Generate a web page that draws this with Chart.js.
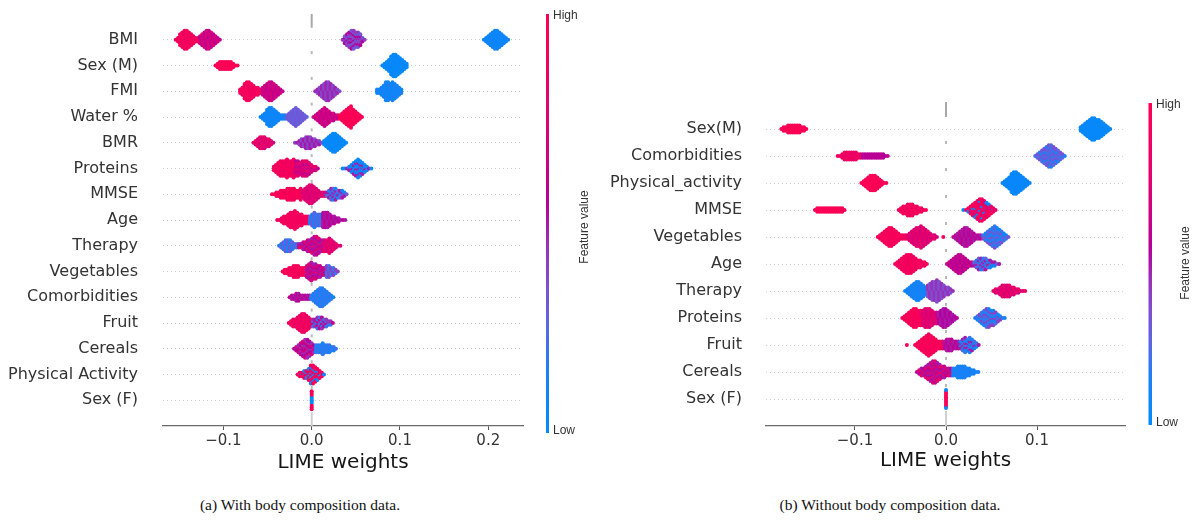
<!DOCTYPE html>
<html>
<head>
<meta charset="utf-8">
<script src="https://cdn.jsdelivr.net/npm/chart.js@4/dist/chart.umd.min.js"></script>
<style>
html,body{margin:0;padding:0;background:#fff;}
#wrap{position:relative;width:1204px;height:520px;overflow:hidden;background:#fff;}
.cv{position:absolute;top:0;}
.cap{position:absolute;font-family:"Liberation Serif","Times New Roman",serif;font-size:15.5px;line-height:18px;color:#111;white-space:nowrap;transform:translateX(-50%);}
</style>
</head>
<body>
<div id="wrap">
  <canvas id="ca" class="cv" style="left:0" width="600" height="490"></canvas>
  <canvas id="cb" class="cv" style="left:600px" width="604" height="490"></canvas>
  <div class="cap" style="left:300px;top:496px">(a) With body composition data.</div>
  <div class="cap" style="left:890px;top:496px">(b) Without body composition data.</div>
</div>
<script>
// ---------- data ----------
const featuresA = ["BMI","Sex (M)","FMI","Water %","BMR","Proteins","MMSE","Age","Therapy","Vegetables","Comorbidities","Fruit","Cereals","Physical Activity","Sex (F)"];
const featuresB = ["Sex(M)","Comorbidities","Physical_activity","MMSE","Vegetables","Age","Therapy","Proteins","Fruit","Cereals","Sex (F)"];
const ticksA = [-0.1, 0.0, 0.1, 0.2];
const tickLabelsA = ["\u22120.1","0.0","0.1","0.2"];
const ticksB = [-0.1, 0.0, 0.1];
const tickLabelsB = ["\u22120.1","0.0","0.1"];
const axisTitle = "LIME weights";
const colourHigh = "High", colourLow = "Low", colourTitle = "Feature value";
// LIME weight histogram bin width
const binWidth = 0.0025;
// swarm clusters: [feature index, first bin weight, dots stacked per bin (half height), feature values (0 low .. 1 high)]
const swarmA = [
  [0,-0.154,[1,2,4,5,6,6,5,4,3,2,2],[0.95,0.85]],
  [0,-0.1265,[3,4,5,6,6,5,4,3,2,1],[0.72,0.6]],
  [0,0.035,[1,3,4,5,6,6,5,5,4,2,1],[0.42,0.32,0.55]],
  [0,0.195,[1,2,3,4,5,6,6,5,4,3,2,1],[0.05,0.1]],
  [1,-0.109,[1,2,3,3,3,3,3,3,2,1,1],[0.97]],
  [1,0.080,[1,2,3,4,6,7,7,6,5,4,3,2],[0.04]],
  [2,-0.081,[2,3,5,6,6,5,4,3,3,2],[0.95,0.85]],
  [2,-0.0555,[3,4,5,6,6,5,4,3,2,1],[0.7,0.6]],
  [2,0.004,[1,2,3,4,5,6,6,5,4,3,2,1],[0.48,0.38]],
  [2,0.074,[2,2,3,4,6,6,5,6,5,4,3,2],[0.05,0.15]],
  [3,-0.058,[1,2,3,5,6,6,5,4,3,2,2,2],[0.05,0.1]],
  [3,-0.028,[2,3,4,5,6,5,4,3,2,1],[0.33,0.28]],
  [3,0.002,[1,2,3,4,5,6,5,4,3,3,2,2],[0.7,0.6]],
  [3,0.032,[2,3,4,5,6,7,5,4,3,2,1],[0.97]],
  [4,-0.066,[1,2,3,4,4,4,3,3,2,1],[0.85,0.7]],
  [4,-0.019,[1,1,2,3,3,4,4,4,3,3,2,2,1],[0.38,0.5]],
  [4,0.014,[2,3,4,5,6,6,5,4,3,2,1],[0.03]],
  [5,-0.043,[2,3,4,5,5,5,6,5,5,6],[0.95,0.85]],
  [5,-0.018,[5,5,4,5,5,5,4,3,2,2,1],[0.7,0.6,0.8]],
  [5,0.035,[1,1,1,2,3,4,5,6,5,4,3,2,1,1],[0.05,0.1,0.5]],
  [6,-0.045,[1,1,2,2,3,3,3,4,4,4,4,3,3,4],[0.95]],
  [6,-0.010,[3,4,5,6,6,5,4,3,2,2,2],[0.8,0.7]],
  [6,0.017,[2,3,4,4,4,3,3,3,2,1],[0.1,0.5,0.3]],
  [7,-0.039,[1,1,2,3,3,4,5,5,6,5,4,4,3,3,3],[0.95,0.85]],
  [7,-0.002,[3,4,5,4,4,4],[0.1,0.3]],
  [7,0.013,[5,5,5,4,3,3,2,2,1,1,1],[0.5,0.6]],
  [8,-0.037,[1,2,3,4,4,4,3,2,2],[0.15,0.3]],
  [8,-0.0145,[2,2,3,3,4,4,5,6,6,5,4,4],[0.6,0.5,0.75]],
  [8,0.015,[4,4,5,4,3,2,1,1],[0.85,0.7]],
  [9,-0.033,[1,2,2,3,3,4,4,4,3,3,3],[0.95,0.9]],
  [9,-0.0055,[4,5,6,5,5,4,4,3,3],[0.6,0.5,0.7]],
  [9,0.017,[4,4,3,3,2,1],[0.2,0.4]],
  [10,-0.025,[1,2,2,3,3,2,2,2,2,2],[0.6,0.5]],
  [10,-0.0005,[2,3,4,5,6,6,5,4,3,2,1],[0.1,0.2]],
  [11,-0.026,[1,2,3,3,4,5,6,6,5,4,3],[0.95,0.8]],
  [11,0.0015,[3,3,4,4,4,3,3,2,2,1],[0.45,0.2,0.6]],
  [12,-0.020,[1,2,3,4,5,6,6,5,4,3],[0.55,0.45,0.7]],
  [12,0.005,[3,3,3,4,3,3,3,2,2,1],[0.1,0.2]],
  [13,-0.016,[1,2,2,3,3,4,6,6,5,4,3,2,1],[0.95,0.1,0.9]],
  [14,0.0,[6],[0.05,0.05,0.05,0.05,0.05,0.95,0.95,0.95,0.95,0.95,0.95]]
];
const swarmB = [
  [0,-0.181,[1,2,2,3,3,3,3,3,3,2,2,1],[0.97]],
  [0,0.148,[2,3,4,5,6,7,7,6,6,5,4,3,2,1],[0.04]],
  [1,-0.119,[1,1,2,3,3,3,3,3,3,2,2],[0.9,0.8]],
  [1,-0.0915,[2,2,2,2,2,2,2,2,2,2,1,1],[0.55,0.6]],
  [1,0.098,[1,2,3,4,5,6,7,7,6,5,4,3,2,1],[0.25,0.15,0.35]],
  [2,-0.093,[1,2,3,4,5,5,5,4,3,2,1,1],[0.97]],
  [2,0.062,[1,2,3,4,6,7,7,6,5,4,3,2,1],[0.05]],
  [3,-0.144,[1,2,2,2,2,2,2,2,2,2,2,2,2,1],[0.97]],
  [3,-0.052,[1,2,3,3,4,4,4,3,3,2,2,1,1],[0.95,0.85]],
  [3,0.019,[1],[0.05]],
  [3,0.022,[1,2,3,4,5,6,7,7,6,5,4,3,2,1],[0.9,0.8,0.95,0.05,0.85,0.9,0.75]],
  [4,-0.075,[1,2,3,4,5,6,6,5,4,3,2,2,2],[0.95,0.9]],
  [4,-0.0425,[2,3,4,5,6,6,7,6,5,4,3,2,2,1],[0.8,0.7]],
  [4,-0.003,[1],[0.9]],
  [4,0.008,[1,2,3,4,5,6,6,5,4,3,2,2,2],[0.6,0.5]],
  [4,0.041,[2,3,4,5,6,7,6,5,4,3,2,1],[0.1,0.2,0.35]],
  [5,-0.056,[1,2,3,4,5,6,6,6,5,4,3,3,2,2,1],[0.95,0.85]],
  [5,0.001,[1,2,3,4,5,6,6,5,4,3,2,2],[0.65,0.55]],
  [5,0.031,[2,3,4,4,4,4,3,3,2,2,1,1],[0.1,0.3,0.5]],
  [6,-0.045,[1,2,3,4,5,6,6,5,4,3],[0.08,0.15]],
  [6,-0.02,[4,5,6,6,7,6,5,4,3,3,2,1],[0.35,0.45]],
  [6,0.052,[1,2,2,3,4,4,4,4,3,3,2,2,1,1,1],[0.85,0.7]],
  [7,-0.048,[1,2,3,4,5,6,6,5,5],[0.97,0.9]],
  [7,-0.0255,[5,6,6,6,5,4,4],[0.8,0.7]],
  [7,-0.008,[4,5,6,6,5,4,3,2,1],[0.55,0.5]],
  [7,0.032,[1,2,3,4,5,6,6,5,5,4,3,2,1,1],[0.1,0.4,0.2]],
  [8,-0.043,[1],[0.97]],
  [8,-0.034,[1,2,3,4,5,6,7,6,5,4,3,3,3],[0.97,0.9]],
  [8,-0.0015,[3,4,4,4,3,3,3],[0.6,0.5]],
  [8,0.016,[3,4,5,4,5,4,3,2,1],[0.1,0.5,0.2]],
  [9,-0.032,[1,2,3,3,4,5,6,7,7,6,5,4,4,3,3,3],[0.6,0.5,0.8]],
  [9,0.008,[3,3,4,4,4,4,3,3,2,2,1,1],[0.1,0.15]],
  [10,0.0,[6],[0.95,0.95,0.95,0.95,0.95,0.95,0.95,0.95,0.95,0.05,0.05]]
];

// ---------- colour map (shap red_blue) ----------
const cmapStops = [
  [0.00,[0,139,251]],[0.15,[28,128,245]],[0.25,[88,104,228]],[0.35,[124,80,208]],
  [0.45,[154,48,184]],[0.55,[180,0,154]],[0.75,[226,0,111]],[1.00,[255,0,82]]
];
function cmap(v){
  v = Math.max(0, Math.min(1, v));
  for (let i = 1; i < cmapStops.length; i++){
    if (v <= cmapStops[i][0]){
      const [a, ca] = cmapStops[i-1], [b, cb] = cmapStops[i];
      const t = (v - a) / (b - a);
      const c = ca.map((x, k) => Math.round(x + (cb[k] - x) * t));
      return `rgb(${c[0]},${c[1]},${c[2]})`;
    }
  }
  return 'rgb(255,0,82)';
}

// beeswarm layout: stack dots of each bin symmetrically around the row
function buildPoints(features, swarm, dotStep){
  const n = features.length, pts = [];
  swarm.forEach(([fi, x0, counts, vals]) => {
    const row = n - 1 - fi;
    let idx = 0;
    counts.forEach((c, i) => {
      const x = x0 + i * binWidth;
      for (let k = 0; k < 2 * c - 1; k++){
        const off = k === 0 ? 0 : (k % 2 ? 1 : -1) * Math.ceil(k / 2);
        pts.push({x: x, y: row + off * dotStep, v: vals[idx++ % vals.length]});
      }
    });
  });
  return pts;
}

const zeroLine = {
  id: 'zeroLine',
  beforeDatasetsDraw(chart){
    const {ctx, chartArea: a, scales: {x, y}} = chart;
    const px = x.getPixelForValue(0);
    const n = Math.round(y.max);
    const gap = chart.options.plugins.zeroLine.gap;
    const seg = (y0, y1, col) => { ctx.strokeStyle = col; ctx.beginPath(); ctx.moveTo(px, y0); ctx.lineTo(px, y1); ctx.stroke(); };
    ctx.save();
    ctx.lineWidth = 2;
    seg(a.top, y.getPixelForValue(n - 1) - gap, '#a8a8a8');
    for (let i = 0; i < n - 1; i++){
      const m = y.getPixelForValue(i + 0.5);
      seg(m - 1.5, m + 1.5, '#b8b8b8');
    }
    seg(y.getPixelForValue(0) + gap, a.bottom, '#d0d0d0');
    ctx.restore();
  }
};

const colourBar = {
  id: 'colourBar',
  afterDraw(chart){
    const o = chart.options.plugins.colourBar;
    const ctx = chart.ctx;
    ctx.save();
    const g = ctx.createLinearGradient(0, o.bottom, 0, o.top);
    cmapStops.forEach(([s, c]) => g.addColorStop(s, `rgb(${c[0]},${c[1]},${c[2]})`));
    ctx.fillStyle = g;
    ctx.fillRect(o.x, o.top, o.w, o.bottom - o.top);
    ctx.fillStyle = '#333';
    ctx.font = '12px "Liberation Sans", Arial, sans-serif';
    ctx.textAlign = 'left';
    ctx.textBaseline = 'middle';
    ctx.fillText(colourHigh, o.x + o.w + 4, o.top + 2);
    ctx.fillText(colourLow, o.x + o.w + 4, o.bottom - 2);
    ctx.translate(o.fvX, o.fvY);
    ctx.rotate(-Math.PI / 2);
    ctx.textAlign = 'center';
    ctx.fillText(colourTitle, 0, 0);
    ctx.restore();
  }
};

function makeChart(id, features, swarm, ticks, tickLabels, xmin, xmax, g){
  const n = features.length;
  return new Chart(document.getElementById(id), {
    type: 'scatter',
    data: {datasets: [{
      data: buildPoints(features, swarm, g.dotStep),
      pointRadius: 2,
      pointHoverRadius: 2,
      pointBorderWidth: 0,
      pointBackgroundColor: c => cmap(c.raw ? c.raw.v : 0.5)
    }]},
    options: {
      responsive: false,
      animation: false,
      events: [],
      layout: {padding: {top: g.top, right: g.right, left: 0, bottom: 0}, autoPadding: false},
      plugins: {
        legend: {display: false},
        tooltip: {enabled: false},
        zeroLine: {gap: g.gap},
        colourBar: g.bar
      },
      scales: {
        x: {
          type: 'linear', position: 'bottom', min: xmin, max: xmax,
          afterBuildTicks: s => { s.ticks = ticks.map(v => ({value: v})); },
          afterFit: s => { s.height = g.xh; s.paddingLeft = 0; s.paddingRight = 0; },
          ticks: {callback: (v, i) => tickLabels[i], font: {family: "'DejaVu Sans', sans-serif", size: 15}, color: '#333', padding: 2, maxRotation: 0, autoSkip: false},
          grid: {drawOnChartArea: false, drawTicks: true, tickLength: 4, tickColor: '#555', tickWidth: 1},
          border: {display: true, color: '#6a6a6a', width: 1.3},
          title: {display: true, text: axisTitle, font: {family: "'DejaVu Sans', sans-serif", size: 20}, color: '#151515', padding: {top: 0, bottom: g.titlePad}}
        },
        y: {
          type: 'linear', position: 'left', min: -1, max: n,
          afterBuildTicks: s => { s.ticks = features.map((f, i) => ({value: i})); },
          afterFit: s => { s.width = g.yw; s.paddingTop = 0; s.paddingBottom = 0; },
          ticks: {callback: v => features[n - 1 - v], font: {family: "'DejaVu Sans', sans-serif", size: 16}, color: '#333', padding: g.ypad, autoSkip: false},
          grid: {drawTicks: false, color: '#cccccc', lineWidth: 1},
          border: {display: false, dash: [1, 3]}
        }
      }
    },
    plugins: [zeroLine, colourBar]
  });
}

makeChart('ca', featuresA, swarmA, ticksA, tickLabelsA, -0.1684, 0.2393, {
  dotStep: 0.07, top: 14, right: 77, xh: 64, yw: 163, ypad: 25, titlePad: 15, gap: 12,
  bar: {x: 546, w: 3, top: 14, bottom: 433, fvX: 585, fvY: 227}
});
makeChart('cb', featuresB, swarmB, ticksB, tickLabelsB, -0.1978, 0.1967, {
  dotStep: 0.0667, top: 102, right: 79, xh: 64, yw: 166, ypad: 24, titlePad: 17, gap: 12,
  bar: {x: 548.5, w: 3.5, top: 103, bottom: 425, fvX: 586, fvY: 263}
});
</script>
</body>
</html>
